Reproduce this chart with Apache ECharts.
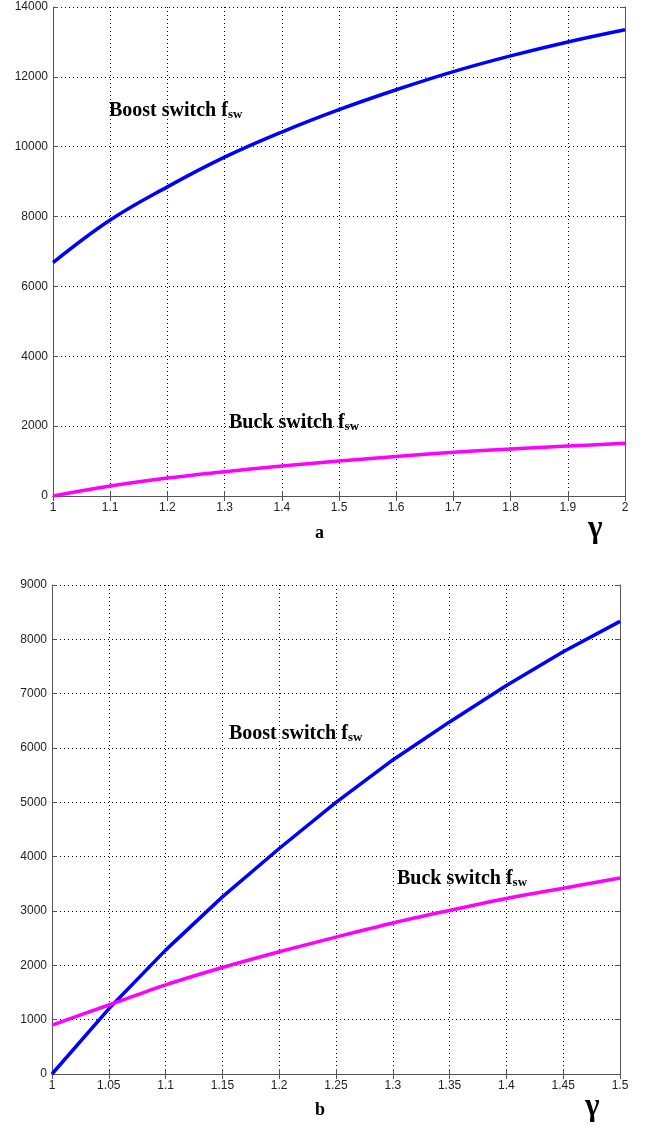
<!DOCTYPE html>
<html><head><meta charset="utf-8">
<script src="https://cdn.jsdelivr.net/npm/echarts@6/dist/echarts.min.js"></script>
<style>html,body{margin:0;padding:0;background:#fff}#c{width:648px;height:1126px}</style>
</head><body><div id="c"></div>
<script>
// Chart a
const gammaA = [1, 1.1, 1.2, 1.3, 1.4, 1.5, 1.6, 1.7, 1.8, 1.9, 2.0];
const boostA = [6680, 7900, 8850, 9700, 10420, 11060, 11630, 12150, 12600, 13000, 13350];
const buckA  = [0, 286, 515, 697, 860, 1000, 1130, 1250, 1345, 1430, 1509];
// Chart b
const gammaB = [1, 1.05, 1.1, 1.15, 1.2, 1.25, 1.3, 1.35, 1.4, 1.45, 1.5];
const boostB = [0, 1200, 2280, 3260, 4150, 5000, 5780, 6480, 7150, 7770, 8330];
const buckB  = [900, 1270, 1640, 1960, 2250, 2520, 2780, 3010, 3230, 3420, 3606];
const yTicksA = {min: 0, max: 14000, interval: 2000};
const yTicksB = {min: 0, max: 9000, interval: 1000};
const xTicksA = {min: 1, max: 2, interval: 0.1};
const xTicksB = {min: 1, max: 1.5, interval: 0.05};

const axisLine = {show: true, lineStyle: {color: '#555', width: 1}};
const gridLine = {show: true, lineStyle: {color: '#000', type: [1, 3], width: 1}};
const lab = {color: '#222', fontFamily: 'Liberation Sans', fontSize: 12};

function xAxes(gi, t) {
  return [
    {type: 'value', gridIndex: gi, min: t.min, max: t.max, interval: t.interval, position: 'bottom',
     axisLine: axisLine, axisTick: {inside: true, length: 5, lineStyle: {color: '#555'}},
     splitLine: gridLine, axisLabel: Object.assign({margin: 6, formatter: v => String(+v.toFixed(2))}, lab)},
    {type: 'value', gridIndex: gi, min: t.min, max: t.max, interval: t.interval, position: 'top',
     axisLine: axisLine, axisTick: {inside: true, length: 5, lineStyle: {color: '#555'}},
     splitLine: {show: false}, axisLabel: {show: false}}
  ];
}
function yAxes(gi, t) {
  return [
    {type: 'value', gridIndex: gi, min: t.min, max: t.max, interval: t.interval, position: 'left',
     axisLine: axisLine, axisTick: {inside: true, length: 5, lineStyle: {color: '#555'}},
     splitLine: gridLine, axisLabel: Object.assign({margin: 5, formatter: v => String(v)}, lab)},
    {type: 'value', gridIndex: gi, min: t.min, max: t.max, interval: t.interval, position: 'right',
     axisLine: axisLine, axisTick: {inside: true, length: 5, lineStyle: {color: '#555'}},
     splitLine: {show: false}, axisLabel: {show: false}}
  ];
}
function pairs(xs, ys) { return xs.map((x, i) => [x, ys[i]]); }
function line(xi, yi, data, color, smooth) {
  return {type: 'line', xAxisIndex: xi, yAxisIndex: yi, data: data, smooth: smooth, symbol: 'none',
          lineStyle: {color: color, width: 3.5}, animation: false};
}
const serif = 'Liberation Serif';
const rich = {
  b: {fontFamily: serif, fontWeight: 'bold', fontSize: 20, color: '#000', lineHeight: 26, verticalAlign: 'bottom'},
  s: {fontFamily: serif, fontWeight: 'bold', fontSize: 13, color: '#000', lineHeight: 18, verticalAlign: 'bottom'}
};
function note(x, y, name) {
  return {type: 'text', left: x, top: y, style: {text: '{b|' + name + ' f}{s|sw}', rich: rich}};
}
const chart = echarts.init(document.getElementById('c'), null, {renderer: 'canvas'});
chart.setOption({
  backgroundColor: '#fff',
  animation: false,
  grid: [
    {left: 53, top: 7, width: 572, height: 489},
    {left: 52, top: 585, width: 568, height: 489}
  ],
  xAxis: [...xAxes(0, xTicksA), ...xAxes(1, xTicksB)],
  yAxis: [...yAxes(0, yTicksA), ...yAxes(1, yTicksB)],
  series: [
    line(0, 0, pairs(gammaA, boostA), '#0000ff', 0.4),
    line(0, 0, pairs(gammaA, buckA), '#ff00ff', 0.4),
    line(2, 2, pairs(gammaB, boostB), '#0000ff', false),
    line(2, 2, pairs(gammaB, buckB), '#ff00ff', 0.3)
  ],
  graphic: [
    note(109, 101, 'Boost switch'),
    note(229, 413, 'Buck switch'),
    note(229, 724, 'Boost switch'),
    note(397, 869, 'Buck switch'),
    {type: 'text', left: 315, top: 524, style: {text: 'a', fontFamily: serif, fontWeight: 'bold', fontSize: 18, fill: '#000'}},
    {type: 'text', left: 588, top: 513, style: {text: 'γ', fontFamily: serif, fontWeight: 'bold', fontSize: 31, fill: '#000'}},
    {type: 'text', left: 315, top: 1101, style: {text: 'b', fontFamily: serif, fontWeight: 'bold', fontSize: 18, fill: '#000'}},
    {type: 'text', left: 585, top: 1091, style: {text: 'γ', fontFamily: serif, fontWeight: 'bold', fontSize: 31, fill: '#000'}}
  ]
});
</script></body></html>
